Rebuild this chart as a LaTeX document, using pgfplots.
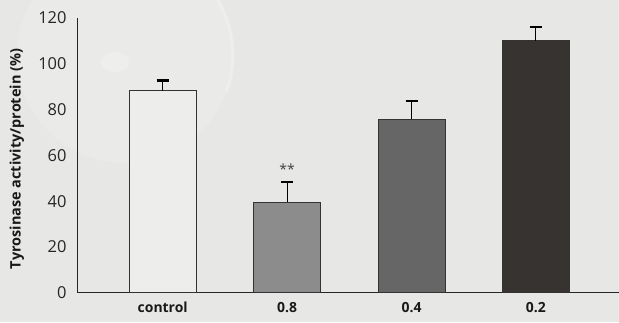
\documentclass[border=0pt]{standalone}
\usepackage{pgfplots}
\pgfplotsset{compat=1.18}
\usepackage{fontspec}
\setmainfont{Open Sans}
\definecolor{bg}{HTML}{E7E7E5}
\definecolor{barA}{HTML}{EDEDEB}
\definecolor{barB}{HTML}{8C8C8C}
\definecolor{barC}{HTML}{666666}
\definecolor{barD}{HTML}{363331}
\definecolor{edge}{HTML}{333333}
\begin{document}
\begin{tikzpicture}[x=1bp,y=1bp]
\fill[bg] (0,0) rectangle (619,322);
\begin{scope}
\clip (0,0) rectangle (619,322);
\fill[white, opacity=0.16] (125,267) circle (108);
\draw[white, opacity=0.25, line width=3bp] (125,267) ++(-20:108) arc (-20:40:108);
\fill[white, opacity=0.2] (115,260) ellipse (14 and 10);
\end{scope}
\useasboundingbox (0,0) rectangle (619,322);
\begin{axis}[
  at={(77bp,29.3bp)}, anchor=south west,
  scale only axis, width=542bp, height=274.7bp,
  xmin=-0.689, xmax=3.668, ymin=0, ymax=120,
  axis x line*=bottom, axis y line*=left,
  axis line style={-, line width=0.9bp, black!85},
  major tick length=0pt,
  ytick={0,20,...,120},
  xtick={0,1,2,3},
  xticklabels={control,0.8,0.4,0.2},
  /pgf/number format/assume math mode=true,
  yticklabel style={font=\fontsize{16.5}{16.5}\selectfont, text=black!85, xshift=-7bp},
  xticklabel style={font=\bfseries\fontsize{14}{15}\selectfont, text=black!90, yshift=-6bp},
  ylabel={Tyrosinase activity/protein (\%)},
  every axis y label/.style={at={(axis description cs:-0.111,0.487)}, rotate=90, anchor=center,
     font=\bfseries\fontsize{14.5}{16}\selectfont, text=black!90},
  clip=false,
]
\addplot[ybar, bar width=67bp, bar shift=0pt, fill=barA, draw=edge, line width=0.7bp,
  error bars/.cd, y dir=plus, y explicit,
  error bar style={line width=0.9bp, black},
  error mark options={rotate=90, mark size=6bp, line width=2.2bp, black}]
  coordinates {(0,88.3) +- (0,4.4)};
\addplot[ybar, bar width=67bp, bar shift=0pt, fill=barB, draw=edge, line width=0.7bp,
  error bars/.cd, y dir=plus, y explicit,
  error bar style={line width=0.9bp, black},
  error mark options={rotate=90, mark size=6bp, line width=2.2bp, black}]
  coordinates {(1,39.6) +- (0,8.6)};
\addplot[ybar, bar width=67bp, bar shift=0pt, fill=barC, draw=edge, line width=0.7bp,
  error bars/.cd, y dir=plus, y explicit,
  error bar style={line width=0.9bp, black},
  error mark options={rotate=90, mark size=6bp, line width=2.2bp, black}]
  coordinates {(2,75.9) +- (0,7.9)};
\addplot[ybar, bar width=67bp, bar shift=0pt, fill=barD, draw=edge, line width=0.7bp,
  error bars/.cd, y dir=plus, y explicit,
  error bar style={line width=0.9bp, black},
  error mark options={rotate=90, mark size=6bp, line width=2.2bp, black}]
  coordinates {(3,110.1) +- (0,5.8)};
\node[font=\fontsize{14}{14}\selectfont, text=black!75] at (axis cs:1,54) {**};
\end{axis}
\end{tikzpicture}
\end{document}
